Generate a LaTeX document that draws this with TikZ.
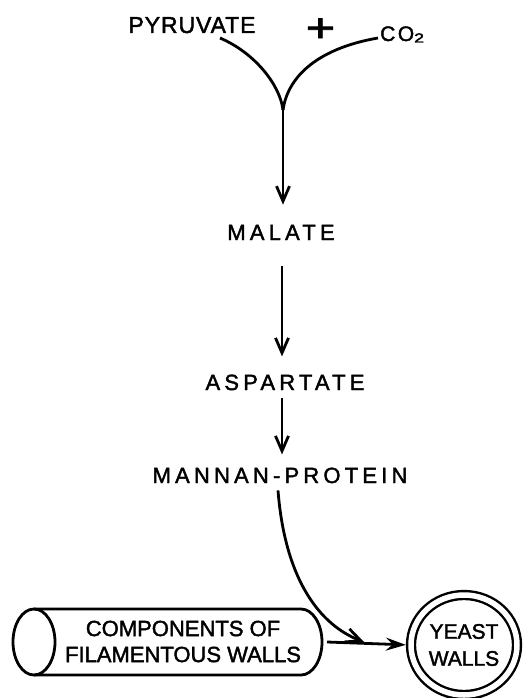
\documentclass[tikz,border=0pt]{standalone}
\usepackage{fontspec}
\usepackage{graphicx}
\setmainfont[FakeBold=1.6,AutoFakeBold=1.6]{Liberation Sans}
\newfontfamily\lsA[LetterSpace=19,FakeBold=1.8]{Liberation Sans}
\newfontfamily\lsB[LetterSpace=4,FakeBold=1.8]{Liberation Sans}
\newfontfamily\lsC[LetterSpace=12,FakeBold=1.8]{Liberation Sans}
\newfontfamily\lsD[FakeBold=1.8]{Liberation Sans}
\newfontfamily\lsE[FakeBold=3]{Liberation Sans}
\usetikzlibrary{arrows.meta,calc,shapes.geometric}
\begin{document}
\begin{tikzpicture}[x=1pt,y=-1pt,
  lbl/.style={inner sep=0pt, anchor=base, font=\lsA\fontsize{22}{22}\selectfont},
  ln/.style={line width=2.8pt},
  arr/.style={ln, -{Straight Barb[length=15pt,width=13pt]}},
  carr/.style={ln, -{Straight Barb[length=15pt,width=14pt]}},
  harr/.style={ln, -{Stealth[length=20pt,width=13pt,inset=7pt]}},
  ]
\useasboundingbox (0,0) rectangle (530,698);

% labels
\node[lbl, font=\lsB\fontsize{23}{23}\selectfont] (pyr) at (192,33) {PYRUVATE};
\node[inner sep=0pt] (plus) at (320.5,30) {\lsD\fontsize{40}{40}\selectfont\scalebox{1.25}[1]{+}};
\node[inner sep=0pt, anchor=base west, font=\lsC\fontsize{21}{21}\selectfont] (co2) at (380,41)
  {CO\raisebox{-1.5pt}{\lsE\fontsize{13}{13}\selectfont\scalebox{1.35}[1]{2}}};
\node[lbl] (malate) at (281,240) {MALATE};
\node[lbl] (aspartate) at (285,390) {ASPARTATE};
\node[lbl] (mannan) at (280,483) {MANNAN-PROTEIN};

% junction
\coordinate (j) at (283,110);
\draw[ln] ($(pyr.base)+(28,5)$) .. controls (255,53) and (280,85) .. (j);
\draw[ln] ($(co2.base west)+(-2,-3)$) .. controls (320,48) and (288,75) .. (j);
\draw[arr] (j) -- ($(j |- malate.north)+(0,-20)$);
\draw[arr] ($(j |- malate.south)+(-1,26)$) -- ($(j |- aspartate.north)+(-1,-18)$);
\draw[arr] ($(j |- aspartate.south)+(-1,8)$) -- ($(j |- mannan.north)+(-1,-13)$);

% cylinder
\draw[ln] (34,642) ellipse [x radius=21, y radius=33];
\draw[ln] (34,609) -- (301,609) arc[start angle=-90, end angle=90, x radius=21, y radius=33] -- (34,675);
\coordinate (cylE) at (322,642);
\node[inner sep=0pt, align=center, font=\lsD\fontsize{22}{26}\selectfont] (comp) at (183,641.5)
  {COMPONENTS OF\\FILAMENTOUS WALLS};

% yeast walls
\node[draw, double, double distance=5.5pt, line width=2.4pt, ellipse, minimum width=106pt,
  minimum height=100pt, inner sep=0pt, align=center, font=\lsD\fontsize{21}{27}\selectfont]
  (yeast) at (464,645) {YEAST\\WALLS};

\coordinate (k) at (364,642);
\draw[harr, shorten >=4pt] ($(cylE)+(5,0)$) -- (yeast.west);
\draw[carr] ($(j |- mannan.south)+(-5,7)$) .. controls (285,580) and (320,625) .. (k);
\end{tikzpicture}
\end{document}
